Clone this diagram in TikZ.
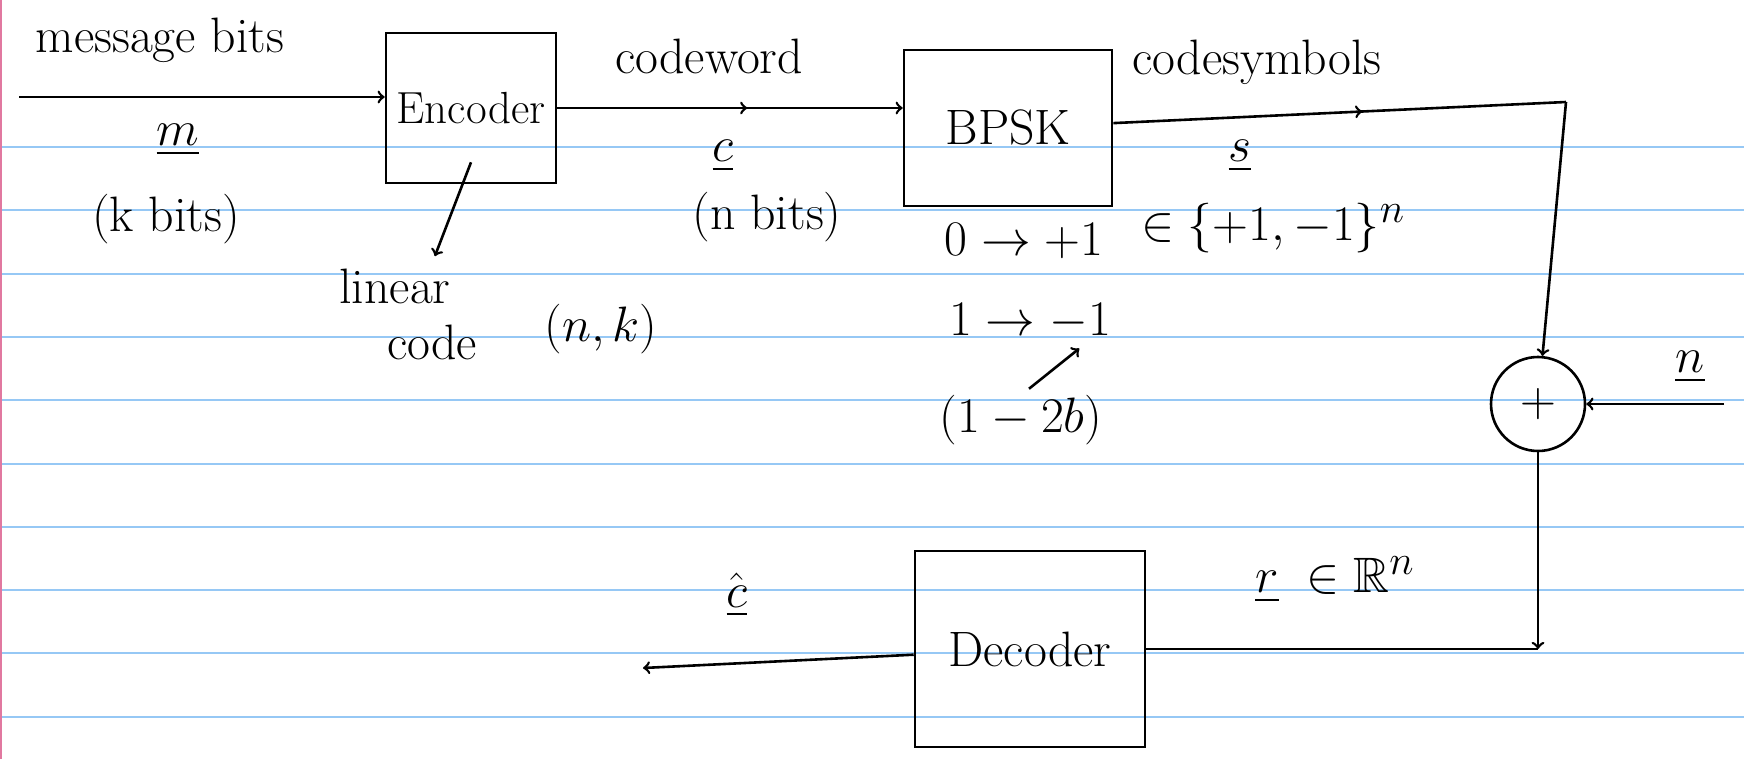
\documentclass[tikz,border=0pt]{standalone}
\usepackage{amsmath}
\usepackage{tikz}
\usepackage{amssymb}
\usepackage{xcolor}
\usetikzlibrary{decorations.markings}

\definecolor{rulecol}{RGB}{150,200,245}
\definecolor{margincol}{RGB}{225,120,160}

\begin{document}
\begin{tikzpicture}[x=0.5pt,y=-0.5pt,
  wire/.style={line width=1.3pt},
  blk/.style={draw, line width=1.3pt, inner sep=0pt},
  lbl/.style={font=\Huge, inner sep=0pt},
  midarr/.style={postaction={decorate},
    decoration={markings, mark=at position 0.55 with {\arrow{>}}}}]

  % Hoja rayada
  \useasboundingbox (0,0) rectangle (1744,759);
  \fill[white] (0,0) rectangle (1744,759);
  \foreach \k in {0,...,9}
    \draw[rulecol, line width=1pt] (0,{147+63.3*\k}) -- (1744,{147+63.3*\k});
  \draw[margincol, line width=1.2pt] (1,0) -- (1,759);

  % Bloques
  \node[blk, minimum width=85pt, minimum height=75pt, font=\fontsize{22.5}{27}\selectfont] (enc) at (471,108) {Encoder};
  \node[blk, minimum width=104pt, minimum height=78pt, font=\Huge] (bpsk) at (1008,128) {BPSK};
  \node[blk, minimum width=115pt, minimum height=98pt, font=\Huge] (dec) at (1030,649) {Decoder};
  \node[draw, circle, line width=1.3pt, minimum size=47pt, inner sep=0pt, font=\Huge] (sum) at (1538,404) {$+$};

  % Puntos libres
  \coordinate (msg) at (19,97);
  \coordinate (tr) at (1566,102);
  \coordinate (nz) at (1724,404);
  \coordinate (out) at (643,668);
  \coordinate (rc) at (sum |- dec);

  % Conexiones
  \draw[wire,->] (msg) -- (msg -| enc.west);
  \draw[wire,->,midarr] (enc.east) -- (enc.east -| bpsk.west);
  \draw[wire,midarr] (bpsk) -- (tr);
  \draw[wire,->] (tr) -- (sum);
  \draw[wire,->] (nz) -- (sum);
  \draw[wire,->] (sum) -- (rc);
  \draw[wire] (rc) -- (dec);
  \draw[wire,->] (dec) -- (out);

  % Etiquetas
  \node[lbl] (lmsg) at (160,40) {message bits};
  \node[lbl] (lm) at (178,140) {$\underline{m}$};
  \node[lbl] (lkbits) at (166,219) {(k bits)};
  \node[lbl] (llin) at (395,286) {linear};
  \node[lbl] (lcode) at (432,342) {code};
  \node[lbl] (lnk) at (601,329) {$(n,k)$};
  \node[lbl] (lcw) at (709,56) {codeword};
  \node[lbl] (lc) at (723,156) {$\underline{c}$};
  \node[lbl] (lnbits) at (767,217) {(n bits)};
  \node[lbl] (lmap0) at (1024,241) {$0\to+1$};
  \node[lbl] (lmap1) at (1030,322) {$1\to-1$};
  \node[lbl] (lform) at (1021,420) {$(1-2b)$};
  \node[lbl] (lcs) at (1257,62) {codesymbols};
  \node[lbl] (ls) at (1240,156) {$\underline{s}$};
  \node[lbl] (lset) at (1273,228) {$\in\{+1,-1\}^n$};
  \node[lbl] (lnz) at (1690,367) {$\underline{n}$};
  \node[lbl] (lr) at (1335,580) {$\underline{r}\;\in\mathbb{R}^n$};
  \node[lbl] (lchat) at (737,595) {$\hat{\underline{c}}$};

  % Notas
  \draw[wire,->] ([yshift=11pt]enc.south) -- ([xshift=-8pt,yshift=6pt]llin.north east);
  \draw[wire,->] ([xshift=4pt,yshift=3pt]lform.north) -- ([xshift=-16pt,yshift=-4pt]lmap1.south east);
\end{tikzpicture}
\end{document}
